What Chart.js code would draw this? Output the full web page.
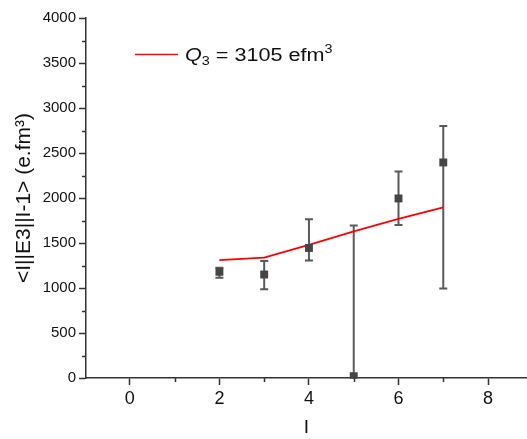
<!DOCTYPE html>
<html lang="en">
<head>
  <meta charset="UTF-8" />
  <title>E3 reduced matrix elements</title>
  <script src="https://cdn.jsdelivr.net/npm/chart.js"></script>
  <style>
    html, body { margin: 0; padding: 0; background: #fff; }
    #wrap { width: 527px; height: 439px; position: relative; }
  </style>
</head>
<body>
<div id="wrap"><canvas id="grafico"></canvas></div>

<script>
// datos
const valoresI = [2, 3, 4, 5, 6, 7];
const medidos = [1180, 1150, 1445, 20, 1995, 2395];
const errSup = [1225, 1300, 1765, 1695, 2295, 2800];
const errInf = [1115, 985, 1305, 0, 1700, 995];
const ajusteQ3 = [1310, 1337, 1478, 1630, 1767, 1896];
const ticksX = [0, 2, 4, 6, 8];
const menoresX = [1, 3, 5, 7];
const ticksY = [0, 500, 1000, 1500, 2000, 2500, 3000, 3500, 4000];
const menoresY = [250, 750, 1250, 1750, 2250, 2750, 3250, 3750];

const ejeColor = '#333333';
const fuente = '"Liberation Sans", Arial, sans-serif';

const barrasError = {
  id: 'barrasError',
  beforeDatasetsDraw(chart) {
    const { ctx, scales: { x, y } } = chart;
    ctx.save();
    ctx.strokeStyle = '#5a5a5a';
    ctx.lineWidth = 2;
    for (let i = 0; i < valoresI.length; i++) {
      const px = x.getPixelForValue(valoresI[i]);
      const pTop = y.getPixelForValue(errSup[i]);
      const pBot = y.getPixelForValue(errInf[i]);
      ctx.beginPath();
      ctx.moveTo(px, pTop);
      ctx.lineTo(px, pBot);
      ctx.moveTo(px - 4, pTop);
      ctx.lineTo(px + 4, pTop);
      ctx.moveTo(px - 4, pBot);
      ctx.lineTo(px + 4, pBot);
      ctx.stroke();
    }
    ctx.restore();
  }
};

const ticksMenores = {
  id: 'ticksMenores',
  afterDraw(chart) {
    const { ctx, chartArea, scales: { x, y } } = chart;
    ctx.save();
    ctx.strokeStyle = ejeColor;
    ctx.lineWidth = 1.5;
    ctx.beginPath();
    menoresY.forEach(v => {
      const py = Math.round(y.getPixelForValue(v)) + 0.5;
      ctx.moveTo(chartArea.left - 4, py);
      ctx.lineTo(chartArea.left, py);
    });
    menoresX.forEach(v => {
      const px = Math.round(x.getPixelForValue(v)) + 0.5;
      ctx.moveTo(px, chartArea.bottom);
      ctx.lineTo(px, chartArea.bottom + 4);
    });
    ctx.stroke();
    ctx.restore();
  }
};

// leyenda con Q cursiva, subindice y superindice
const leyenda = {
  id: 'leyenda',
  afterDraw(chart) {
    const { ctx } = chart;
    ctx.save();
    ctx.strokeStyle = '#ff0000';
    ctx.lineWidth = 1.5;
    ctx.beginPath();
    ctx.moveTo(135, 54.5);
    ctx.lineTo(178, 54.5);
    ctx.stroke();
    ctx.fillStyle = '#111';
    ctx.translate(185, 61);
    ctx.scale(1.2, 1);
    let cx = 0;
    ctx.font = 'italic 18px ' + fuente;
    ctx.fillText('Q', cx, 0);
    cx += ctx.measureText('Q').width;
    ctx.font = '12px ' + fuente;
    ctx.fillText('3', cx, 4);
    cx += ctx.measureText('3').width;
    ctx.font = '18px ' + fuente;
    const txt = ' = 3105 efm';
    ctx.fillText(txt, cx, 0);
    cx += ctx.measureText(txt).width;
    ctx.font = '12px ' + fuente;
    ctx.fillText('3', cx, -8);
    ctx.restore();
  }
};

const puntos = valoresI.map((v, i) => ({ x: v, y: medidos[i] }));
const curva = valoresI.map((v, i) => ({ x: v, y: ajusteQ3[i] }));

new Chart(document.getElementById('grafico'), {
  type: 'scatter',
  data: {
    datasets: [
      {
        label: 'datos',
        data: puntos,
        pointStyle: 'rect',
        pointRadius: 5.6,
        backgroundColor: '#454545',
        borderColor: '#454545',
        borderWidth: 0,
        order: 0
      },
      {
        label: 'Q3 = 3105 efm3',
        type: 'line',
        data: curva,
        borderColor: '#ff0000',
        borderWidth: 1.8,
        pointRadius: 0,
        tension: 0,
        fill: false,
        order: 1
      }
    ]
  },
  options: {
    responsive: true,
    maintainAspectRatio: false,
    animation: false,
    layout: { autoPadding: false, padding: { top: 18, right: 0, left: 0, bottom: 0 } },
    plugins: {
      legend: { display: false },
      tooltip: { enabled: false }
    },
    scales: {
      x: {
        type: 'linear',
        min: -0.98,
        max: 8.87,
        afterBuildTicks: (s) => { s.ticks = ticksX.map(v => ({ value: v })); },
        afterFit: (s) => { s.height = 61; },
        border: { color: ejeColor, width: 1.5 },
        grid: { drawOnChartArea: false, tickLength: 7, tickColor: ejeColor, tickWidth: 1.5 },
        ticks: {
          color: '#111',
          padding: 3,
          font: { family: fuente, size: 18 }
        },
        title: {
          display: true,
          text: 'I',
          color: '#111',
          padding: { top: 2, bottom: 0 },
          font: { family: fuente, size: 19 }
        }
      },
      y: {
        min: 0,
        max: 4000,
        afterBuildTicks: (s) => { s.ticks = ticksY.map(v => ({ value: v })); },
        afterFit: (s) => { s.width = 86; },
        border: { color: ejeColor, width: 1.5 },
        grid: { drawOnChartArea: false, tickLength: 7, tickColor: ejeColor, tickWidth: 1.5 },
        ticks: {
          color: '#111',
          padding: 3,
          callback: (v) => String(v),
          font: { family: fuente, size: 15 }
        },
        title: {
          display: true,
          text: '<I||E3||I-1> (e.fm³)',
          color: '#111',
          padding: { top: 12, bottom: 0 },
          font: { family: fuente, size: 21 }
        }
      }
    }
  },
  plugins: [barrasError, ticksMenores, leyenda]
});
</script>
</body>
</html>
